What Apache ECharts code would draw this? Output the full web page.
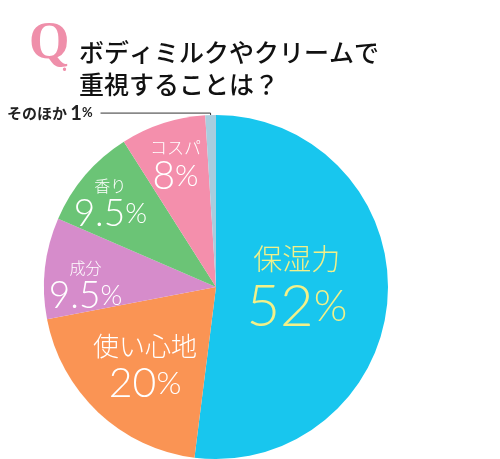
<!DOCTYPE html>
<html>
<head>
<meta charset="utf-8">
<script src="https://cdn.jsdelivr.net/npm/echarts@6/dist/echarts.min.js"></script>
<style>
html,body{margin:0;padding:0;background:#fff;}
#chart{width:500px;height:459px;}
</style>
</head>
<body>
<div id="chart"></div>
<script>
// Data
const categories = ['保湿力', '使い心地', '成分', '香り', 'コスパ', 'そのほか'];
const values = [52, 20, 9.5, 9.5, 8, 1];
const colors = ['#18C6EE', '#FA9454', '#D68CCB', '#6BC476', '#F48FAC', '#A8CDDE'];
const titleText = 'ボディミルクやクリームで\n重視することは？';

// Label styling per slice (sizes/offsets only)
const labelStyle = [
  {color: '#F2F088', name: 29, num: 58, pct: 43, nh: 34, vh: 64, dx: -8, dy: -2},
  {color: '#FFFFFF', name: 26, num: 41, pct: 32, nh: 29, vh: 46, dx: -10, dy: 17},
  {color: '#FFFFFF', name: 16, num: 37, pct: 28, nh: 20, vh: 36, dx: -42, dy: 9},
  {color: '#FFFFFF', name: 16, num: 37, pct: 28, nh: 20, vh: 36, dx: -38, dy: -25},
  {color: '#FFFFFF', name: 17, num: 39, pct: 30, nh: 20, vh: 38, dx: -13, dy: -36}
];

const numFont = 'Lato, "Noto Sans CJK JP", sans-serif';
const jpFont = '"Noto Sans CJK JP", sans-serif';

const data = categories.map((name, i) => {
  const item = {name: name, value: values[i], itemStyle: {color: colors[i]}};
  if (i < labelStyle.length) {
    const s = labelStyle[i];
    item.label = {
      position: 'inside',
      formatter: '{n|{b}}\n{v|{c}}{p|%}',
      rich: {
        n: {fontSize: s.name, color: s.color, fontFamily: jpFont, fontWeight: 300, lineHeight: s.nh},
        v: {fontSize: s.num, color: s.color, fontFamily: numFont, fontWeight: 300, lineHeight: s.vh},
        p: {fontSize: s.pct, color: s.color, fontFamily: numFont, fontWeight: 300, lineHeight: s.vh}
      }
    };
    item.labelLine = {show: false};
  } else {
    item.label = {
      position: 'outside',
      distanceToLabelLine: 8,
      formatter: '{n|{b}} {v|{c}}{p|%}',
      rich: {
        n: {fontSize: 15, color: '#222', fontFamily: jpFont, fontWeight: 'bold'},
        v: {fontSize: 20, color: '#222', fontFamily: numFont, fontWeight: 'bold'},
        p: {fontSize: 13, color: '#222', fontFamily: numFont, fontWeight: 'bold'}
      }
    };
    item.labelLine = {show: true, length: 2, length2: 110, smooth: false,
      lineStyle: {color: '#333', width: 1}};
  }
  return item;
});

const chart = echarts.init(document.getElementById('chart'), null, {renderer: 'canvas'});
chart.setOption({
  animation: false,
  backgroundColor: '#ffffff',
  title: {
    text: titleText,
    left: 74,
    top: 31,
    textStyle: {fontSize: 25, fontWeight: 500, color: '#111', fontFamily: jpFont, lineHeight: 32}
  },
  graphic: [
    {type: 'text', left: 29, top: 19, style: {text: 'Q', fontSize: 52, fontWeight: 'bold',
      fontFamily: '"Liberation Serif", "DejaVu Serif", serif', fill: '#EF8FAA'}},
    {type: 'text', left: 62, top: 56, style: {text: '.', fontSize: 20, fontWeight: 'bold',
      fontFamily: '"Liberation Serif", serif', fill: '#EF8FAA'}}
  ],
  series: [{
    type: 'pie',
    center: [216, 287],
    radius: [0, 172],
    startAngle: 90,
    clockwise: true,
    avoidLabelOverlap: false,
    itemStyle: {borderWidth: 0},
    emphasis: {disabled: true},
    labelLayout: function (params) {
      const s = labelStyle[params.dataIndex];
      if (!s) return {};
      return {dx: s.dx, dy: s.dy};
    },
    data: data
  }]
});
</script>
</body>
</html>
